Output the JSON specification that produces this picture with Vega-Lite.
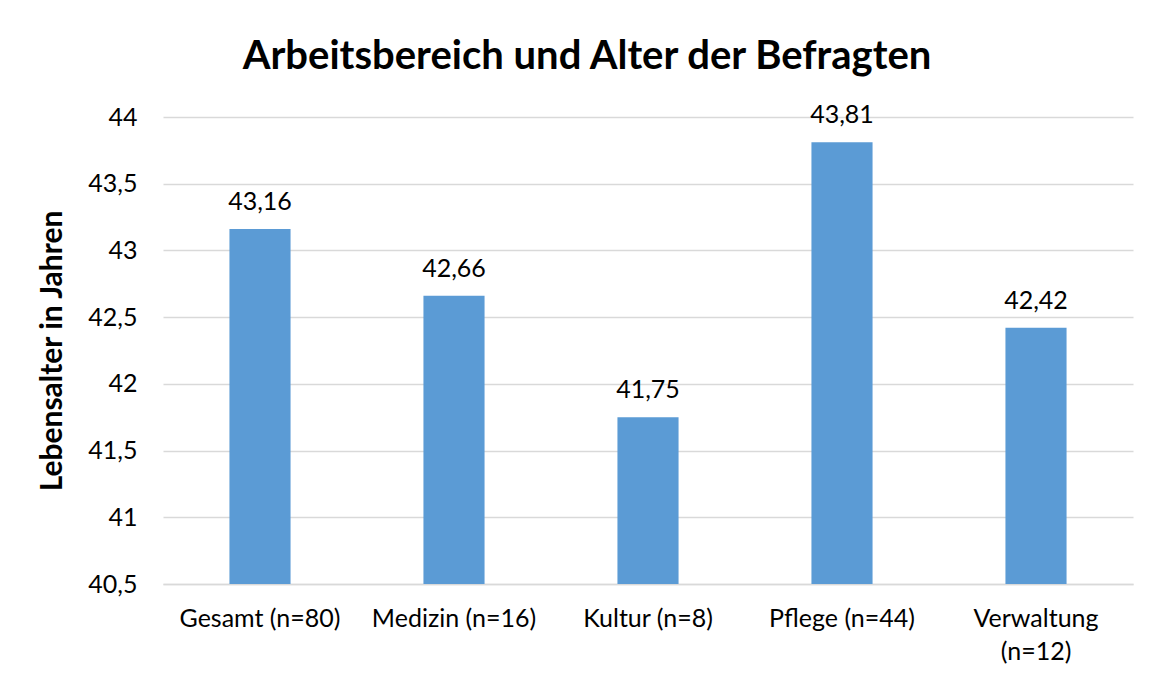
{
  "$schema": "https://vega.github.io/schema/vega-lite/v6.json",
  "width": 970,
  "height": 467,
  "autosize": {"type": "none"},
  "padding": {"left": 163, "top": 117, "right": 21, "bottom": 90},
  "background": "white",
  "config": {
    "locale": {"number": {"decimal": ",", "thousands": ".", "grouping": [3], "currency": ["", " €"]}},
    "font": "Lato",
    "view": {"stroke": null}
  },
  "title": {
    "text": "Arbeitsbereich und Alter der Befragten",
    "font": "Lato",
    "fontSize": 40,
    "fontWeight": "bold",
    "color": "#000000",
    "anchor": "middle",
    "dx": -61,
    "offset": 26
  },
  "data": {
    "values": [
      {"bereich": "Gesamt (n=80)", "alter": 43.16},
      {"bereich": "Medizin (n=16)", "alter": 42.66},
      {"bereich": "Kultur (n=8)", "alter": 41.75},
      {"bereich": "Pflege (n=44)", "alter": 43.81},
      {"bereich": "Verwaltung (n=12)", "alter": 42.42}
    ]
  },
  "encoding": {
    "x": {
      "field": "bereich",
      "type": "nominal",
      "sort": null,
      "scale": {"paddingInner": 0, "paddingOuter": 0},
      "axis": {
        "title": null,
        "labelAngle": 0,
        "labelFont": "Lato",
        "labelFontSize": 25,
        "labelColor": "#000000",
        "labelPadding": 22,
        "labelLineHeight": 33,
        "labelExpr": "datum.label == 'Verwaltung (n=12)' ? ['Verwaltung', '(n=12)'] : datum.label",
        "ticks": false,
        "domainColor": "#d9d9d9",
        "domainWidth": 1.5
      }
    },
    "y": {
      "field": "alter",
      "type": "quantitative",
      "scale": {"domain": [40.5, 44], "zero": false, "nice": false},
      "axis": {
        "title": "Lebensalter in Jahren",
        "titleFont": "Lato",
        "titleFontSize": 30,
        "titleFontWeight": "bold",
        "titleColor": "#000000",
        "titlePadding": 20,
        "values": [40.5, 41, 41.5, 42, 42.5, 43, 43.5, 44],
        "format": ".1~f",
        "labelFont": "Lato",
        "labelFontSize": 25,
        "labelColor": "#000000",
        "labelPadding": 26,
        "ticks": false,
        "domain": false,
        "grid": true,
        "gridColor": "#d9d9d9",
        "gridWidth": 1.5
      }
    }
  },
  "layer": [
    {
      "mark": {"type": "bar", "color": "#5b9bd5", "width": {"band": 0.315}, "clip": true}
    },
    {
      "mark": {"type": "text", "baseline": "alphabetic", "dy": -19, "font": "Lato", "fontSize": 25, "color": "#000000"},
      "encoding": {
        "text": {"field": "alter", "type": "quantitative", "format": ".2f"}
      }
    }
  ]
}
